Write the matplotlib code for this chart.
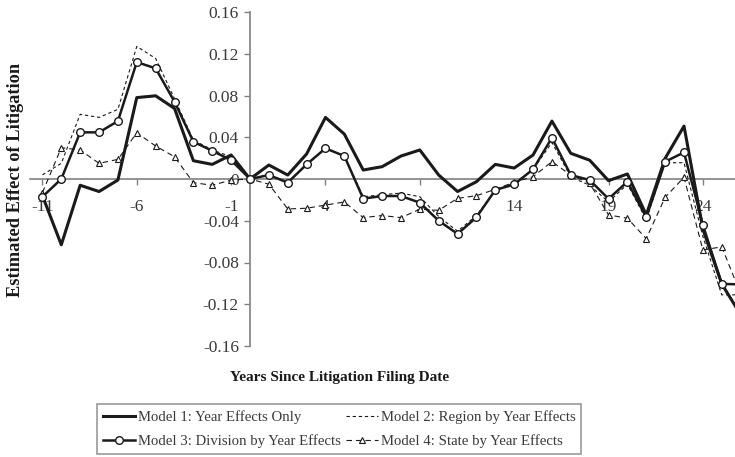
import matplotlib
matplotlib.use("Agg")
import matplotlib.pyplot as plt
import numpy as np

plt.rcParams['font.family'] = ['Liberation Serif', 'DejaVu Serif']

years = list(range(-11, 27))

model1 = [-0.016, -0.063, -0.006, -0.012, -0.001, 0.078, 0.0797, 0.0676, 0.0175, 0.014,
          0.023, 0.0, 0.0134, 0.0038, 0.024, 0.059, 0.043, 0.0086, 0.0118, 0.022,
          0.0278, 0.0038, -0.012, -0.0026, 0.014, 0.0105, 0.023, 0.0555, 0.0246, 0.018,
          -0.0016, 0.0048, -0.0344, 0.0198, 0.0507, -0.048, -0.1005, -0.130]
model2 = [0.004, 0.015, 0.062, 0.059, 0.0667, 0.127, 0.1155, 0.077, 0.0373, 0.0278,
          0.0213, 0.0, 0.004, -0.003, 0.014, 0.029, 0.022, -0.017, -0.015, -0.0135,
          -0.017, -0.036, -0.050, -0.035, -0.011, -0.004, 0.009, 0.035, 0.002, -0.006,
          -0.022, -0.005, -0.039, 0.0156, 0.0156, -0.055, -0.111, -0.111]
model3 = [-0.017, 0.0, 0.0447, 0.0447, 0.0555, 0.112, 0.106, 0.074, 0.0357, 0.027,
          0.018, 0.0, 0.0038, -0.0035, 0.014, 0.0294, 0.022, -0.0188, -0.0163, -0.0163,
          -0.0227, -0.040, -0.0526, -0.0367, -0.0105, -0.0052, 0.0093, 0.0395, 0.0038, -0.001,
          -0.019, -0.0026, -0.0367, 0.0166, 0.0255, -0.044, -0.1005, -0.101]
model4 = [-0.013, 0.030, 0.0278, 0.015, 0.0188, 0.0443, 0.0316, 0.0213, -0.0035, -0.006,
          -0.001, 0.0, -0.005, -0.0287, -0.028, -0.025, -0.022, -0.037, -0.035, -0.037,
          -0.029, -0.030, -0.0185, -0.016, -0.0099, -0.003, 0.0022, 0.0166, 0.0038, -0.004,
          -0.0344, -0.0376, -0.0572, -0.0175, 0.0016, -0.068, -0.065, -0.11]

xticks = [-11, -6, -1, 4, 9, 14, 19, 24]
yticks = [-0.16, -0.12, -0.08, -0.04, 0, 0.04, 0.08, 0.12, 0.16]
ytick_labels = ['-0.16', '-0.12', '-0.08', '-0.04', '0', '0.04', '0.08', '0.12', '0.16']

W, H = 735, 457
fig = plt.figure(figsize=(W / 100, H / 100), dpi=100)

# axes placed in pixel terms: x=0 at px 250, 18.87 px per year; y 0.16 at 12, -0.16 at 346
left_px, right_px = 30, 735
ax = fig.add_axes([left_px / W, 1 - 346 / H, (right_px - left_px) / W, (346 - 12) / H])
ppy = 18.87
ax.set_xlim((left_px - 250) / ppy, (right_px - 250) / ppy)
ax.set_ylim(-0.16, 0.16)

ink = '#1a1a1a'
l1, = ax.plot(years, model1, color=ink, lw=2.2, label='Model 1: Year Effects Only', zorder=3)
l2, = ax.plot(years, model2, color=ink, lw=0.8, dashes=(3, 2.5),
              label='Model 2: Region by Year Effects', zorder=3)
l3, = ax.plot(years, model3, color=ink, lw=1.8, marker='o', ms=5.5, mfc='white', mec=ink,
              mew=1.0, label='Model 3: Division by Year Effects', zorder=4)
l4, = ax.plot(years, model4, color=ink, lw=0.8, dashes=(5, 3.5), marker='^', ms=5,
              mfc='white', mec=ink, mew=0.8, label='Model 4: State by Year Effects', zorder=3)

ax.set_axisbelow(True)
for s in ['top', 'right']:
    ax.spines[s].set_visible(False)
axis_col = '#808080'
ax.spines['left'].set_position(('data', 0))
ax.spines['bottom'].set_position(('data', 0))
ax.spines['left'].set_color(axis_col)
ax.spines['bottom'].set_color(axis_col)
ax.spines['left'].set_linewidth(1.2)
ax.spines['bottom'].set_linewidth(1.2)

ax.set_xticks(xticks)
ax.set_xticklabels([str(t) for t in xticks])
ax.set_yticks(yticks)
ax.set_yticklabels(ytick_labels)
lab_col = '#3a3a3a'
ax.tick_params(axis='x', direction='out', length=4.5, width=1, color=axis_col,
               pad=10, labelsize=12.5, labelcolor=lab_col)
ax.tick_params(axis='y', direction='out', length=4.5, width=1, color=axis_col,
               pad=3.5, labelsize=12.5, labelcolor=lab_col)

fig.text(16 / W, 1 - 180 / H, 'Estimated Effect of Litigation', rotation=90,
         ha='center', va='center', fontsize=13.2, fontweight='bold', color=ink)
fig.text(340 / W, 1 - 377 / H, 'Years Since Litigation Filing Date',
         ha='center', va='center', fontsize=11, fontweight='bold', color=ink)

# legend filled by columns, so order handles to read row-wise like the original
leg = fig.legend([l1, l3, l2, l4], [l.get_label() for l in (l1, l3, l2, l4)],
                 loc='upper left', bbox_to_anchor=(97 / W, 1 - 404 / H), ncol=2,
                 fontsize=10.6, frameon=True, fancybox=False, borderaxespad=0,
                 handlelength=2.2, handletextpad=0.2, columnspacing=0.3,
                 borderpad=0.4, labelspacing=0.75)
leg.get_frame().set_edgecolor(axis_col)
leg.get_frame().set_linewidth(1.2)
for t in leg.get_texts():
    t.set_color(lab_col)

fig.savefig('out.png', dpi=100)
